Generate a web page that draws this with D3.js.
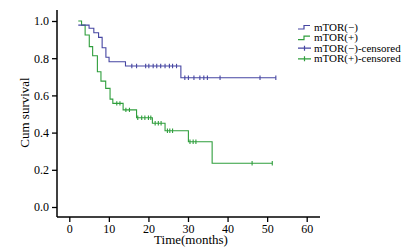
<!DOCTYPE html>
<html>
<head>
<meta charset="utf-8">
<script src="https://cdn.jsdelivr.net/npm/d3@7"></script>
<style>
  body { margin: 0; background: #fff; }
  svg { display: block; font-family: "Liberation Serif", "Times New Roman", serif; }
</style>
</head>
<body>
<div id="chart"></div>
<script>
// step points [time, survival] for each group
const negSteps = [[2.27, 0.978], [5.0, 0.961], [6.2, 0.937], [7.4, 0.912], [8.3, 0.856], [9.25, 0.805], [10.05, 0.781], [14.2, 0.758], [28.2, 0.695]];
const negEnd = 52.2;
const negCensored = [15.8, 17.0, 19.3, 20.1, 21.2, 22.1, 23.1, 24.2, 25.3, 26.1, 27.1, 29.2, 30.1, 31.5, 33.0, 34.0, 34.9, 38.1, 48.2, 52.2];

const posSteps = [[2.27, 1.0], [3.1, 0.978], [4.0, 0.925], [5.05, 0.862], [5.9, 0.813], [7.1, 0.727], [8.0, 0.677], [9.2, 0.638], [10.3, 0.58], [11.0, 0.557], [13.6, 0.522], [17.0, 0.48], [21.0, 0.45], [24.2, 0.41], [30.1, 0.351], [36.1, 0.235]];
const posEnd = 51.3;
const posCensored = [12.0, 12.8, 14.3, 15.2, 17.3, 18.3, 19.1, 20.0, 20.6, 21.7, 22.5, 23.2, 24.8, 25.4, 26.1, 30.5, 31.3, 32.0, 46.2, 51.3];

const xTicks = [0, 10, 20, 30, 40, 50, 60];
const yTicks = [0, 0.2, 0.4, 0.6, 0.8, 1.0];
const legendLabels = ["mTOR(\u2212)", "mTOR(+)", "mTOR(\u2212)-censored", "mTOR(+)-censored"];

const blue = "#4646a2";
const green = "#2f9e3c";

const width = 408, height = 248;
const axisLeft = 57, axisBottom = 217, axisTop = 10, axisRight = 320;

const svg = d3.select("#chart").append("svg")
    .attr("width", width)
    .attr("height", height);

const x = d3.scaleLinear().domain([0, 60]).range([69.3, 306.7]);
const y = d3.scaleLinear().domain([0, 1]).range([207, 21]);

// axes
svg.append("g")
    .attr("transform", `translate(${axisLeft},0)`)
    .call(d3.axisLeft(y).tickValues(yTicks).tickFormat(d3.format(".1f")).tickSize(5).tickPadding(3))
    .call(g => g.select(".domain").remove())
    .call(g => g.selectAll(".tick line").attr("stroke", "#000").attr("stroke-width", 1.3))
    .call(g => g.selectAll(".tick text").attr("font-size", 12).attr("font-family", "Liberation Serif").attr("fill", "#000"));

svg.append("g")
    .attr("transform", `translate(0,${axisBottom})`)
    .call(d3.axisBottom(x).tickValues(xTicks).tickSize(5).tickPadding(2))
    .call(g => g.select(".domain").remove())
    .call(g => g.selectAll(".tick line").attr("stroke", "#000").attr("stroke-width", 1.3))
    .call(g => g.selectAll(".tick text").attr("font-size", 12).attr("font-family", "Liberation Serif").attr("fill", "#000"));

svg.append("line")
    .attr("x1", axisLeft).attr("x2", axisLeft)
    .attr("y1", axisTop).attr("y2", axisBottom)
    .attr("stroke", "#000").attr("stroke-width", 1.5);
svg.append("line")
    .attr("x1", axisLeft).attr("x2", axisRight)
    .attr("y1", axisBottom).attr("y2", axisBottom)
    .attr("stroke", "#000").attr("stroke-width", 1.5);

svg.append("text")
    .attr("x", 191).attr("y", 244)
    .attr("text-anchor", "middle")
    .attr("font-size", 13)
    .text("Time(months)");

svg.append("text")
    .attr("transform", "translate(29,112.5) rotate(-90)")
    .attr("text-anchor", "middle")
    .attr("font-size", 13)
    .text("Cum survival");

// curves
const line = d3.line()
    .x(d => x(d[0]))
    .y(d => y(d[1]))
    .curve(d3.curveStepAfter);

function survAt(steps, t) {
    let s = steps[0][1];
    steps.forEach(p => { if (p[0] <= t) s = p[1]; });
    return s;
}

function drawGroup(steps, end, censored, color) {
    const pts = steps.concat([[end, steps[steps.length - 1][1]]]);
    svg.append("path")
        .attr("d", line(pts))
        .attr("fill", "none")
        .attr("stroke", color)
        .attr("stroke-width", 1.1);

    svg.append("g")
        .selectAll("line")
        .data(censored)
        .join("line")
        .attr("x1", d => x(d))
        .attr("x2", d => x(d))
        .attr("y1", d => y(survAt(steps, d)) - 2.2)
        .attr("y2", d => y(survAt(steps, d)) + 2.2)
        .attr("stroke", color)
        .attr("stroke-width", 1.1);
}

drawGroup(posSteps, posEnd, posCensored, green);
drawGroup(negSteps, negEnd, negCensored, blue);

// legend
const legendColors = [blue, green, blue, green];
const legend = svg.append("g")
    .selectAll("g")
    .data(legendLabels)
    .join("g")
    .attr("transform", (d, i) => `translate(298,${27 + i * 10.6})`);

legend.each(function (d, i) {
    const g = d3.select(this);
    if (i < 2) {
        g.append("path")
            .attr("d", "M0,2H6V-1.5H12")
            .attr("fill", "none")
            .attr("stroke", legendColors[i])
            .attr("stroke-width", 1.2);
    } else {
        g.append("path")
            .attr("d", "M0,0H13M6.5,-2.5V2.5")
            .attr("fill", "none")
            .attr("stroke", legendColors[i])
            .attr("stroke-width", 1.2);
    }
});

legend.append("text")
    .attr("x", 16)
    .attr("y", 0)
    .attr("dy", "0.33em")
    .attr("font-size", 11)
    .text(d => d);
</script>
</body>
</html>
